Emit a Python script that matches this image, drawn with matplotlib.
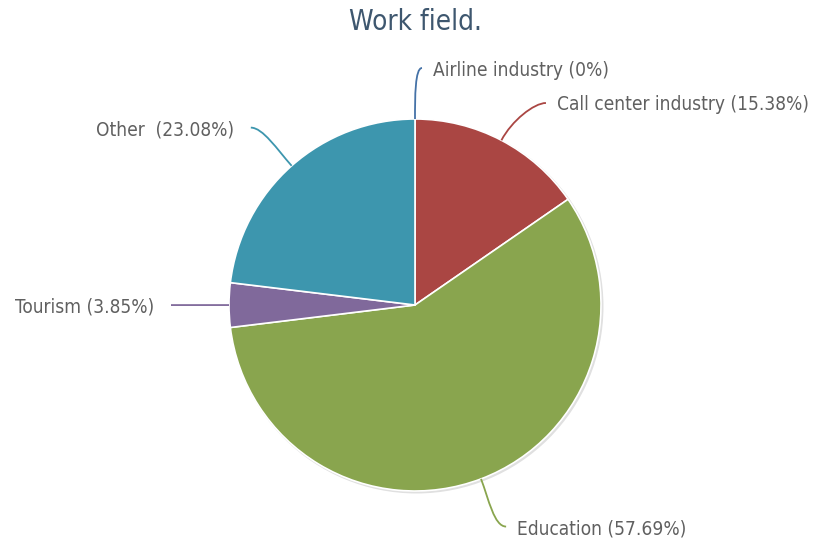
import numpy as np
import matplotlib
matplotlib.use("Agg")
from matplotlib import pyplot as plt
from matplotlib.path import Path
from matplotlib.patches import PathPatch, Circle

# data
categories = ["Airline industry", "Call center industry", "Education", "Tourism", "Other"]
shares = [0.0, 15.38, 57.69, 3.85, 23.08]
label_texts = ["Airline industry (0%)", "Call center industry (15.38%)",
               "Education (57.69%)", "Tourism (3.85%)", "Other  (23.08%)"]
colors = ["#4572A7", "#AA4643", "#89A54E", "#80699B", "#3D96AE"]

W, H = 814, 539
fig = plt.figure(figsize=(W / 100, H / 100), dpi=100)
ax = fig.add_axes([0, 0, 1, 1])

cx, cy, r = 415, H - 305, 186
R_LABEL = 237

# faint shadow
ax.add_patch(Circle((cx + 1.5, cy - 1.5), r + 1, color="#000000", alpha=0.12, lw=0, zorder=1))

wedges, _ = ax.pie(shares, colors=colors, startangle=90, counterclock=False,
                   center=(cx, cy), radius=r,
                   wedgeprops=dict(edgecolor="white", linewidth=1.2),
                   normalize=True)
for w in wedges:
    w.set_zorder(2)

# pie() resets the limits, so set them afterwards
ax.set_xlim(0, W)
ax.set_ylim(0, H)
ax.set_aspect("equal")
ax.axis("off")

# label layout: natural y on a circle, push apart on each side, x from circle
total = sum(shares)
start = 90.0
items = []
for val, txt, col in zip(shares, label_texts, colors):
    sweep = val / total * 360
    mid = np.deg2rad(start - sweep / 2)
    start -= sweep
    c, s = np.cos(mid), np.sin(mid)
    side = 1 if c > -1e-6 else -1
    items.append(dict(c=c, s=s, side=side, dy=R_LABEL * s, txt=txt, col=col))

for side in (1, -1):
    grp = sorted([it for it in items if it["side"] == side], key=lambda it: -it["dy"])
    for a, b in zip(grp, grp[1:]):
        if a["dy"] - b["dy"] < 35:
            b["dy"] = a["dy"] - 35

for it in items:
    c, s, side = it["c"], it["s"], it["side"]
    dx = np.sqrt(max(R_LABEL ** 2 - it["dy"] ** 2, 0)) + 7
    p0 = (cx + r * c, cy + r * s)
    p1 = (cx + (r + 22) * c, cy + (r + 22) * s)
    p3 = (cx + side * dx, cy + it["dy"])
    p2 = (cx + side * max(dx - 12, abs(p1[0] - cx)), p3[1])
    path = Path([p0, p1, p2, p3], [Path.MOVETO, Path.CURVE4, Path.CURVE4, Path.CURVE4])
    ax.add_patch(PathPatch(path, fc="none", ec=it["col"], lw=1.3, zorder=3))
    gap = 11 if side > 0 else 17
    ax.text(p3[0] + side * gap, p3[1] - 2, it["txt"], ha="left" if side > 0 else "right",
            va="center", fontsize=13.7, color="#606060", fontstretch="condensed",
            family="DejaVu Sans")

ax.text(415, H - 22, "Work field.", ha="center", va="center", fontsize=20,
        color="#3E576F", fontstretch="condensed", family="DejaVu Sans")

fig.savefig("out.png", dpi=100)
